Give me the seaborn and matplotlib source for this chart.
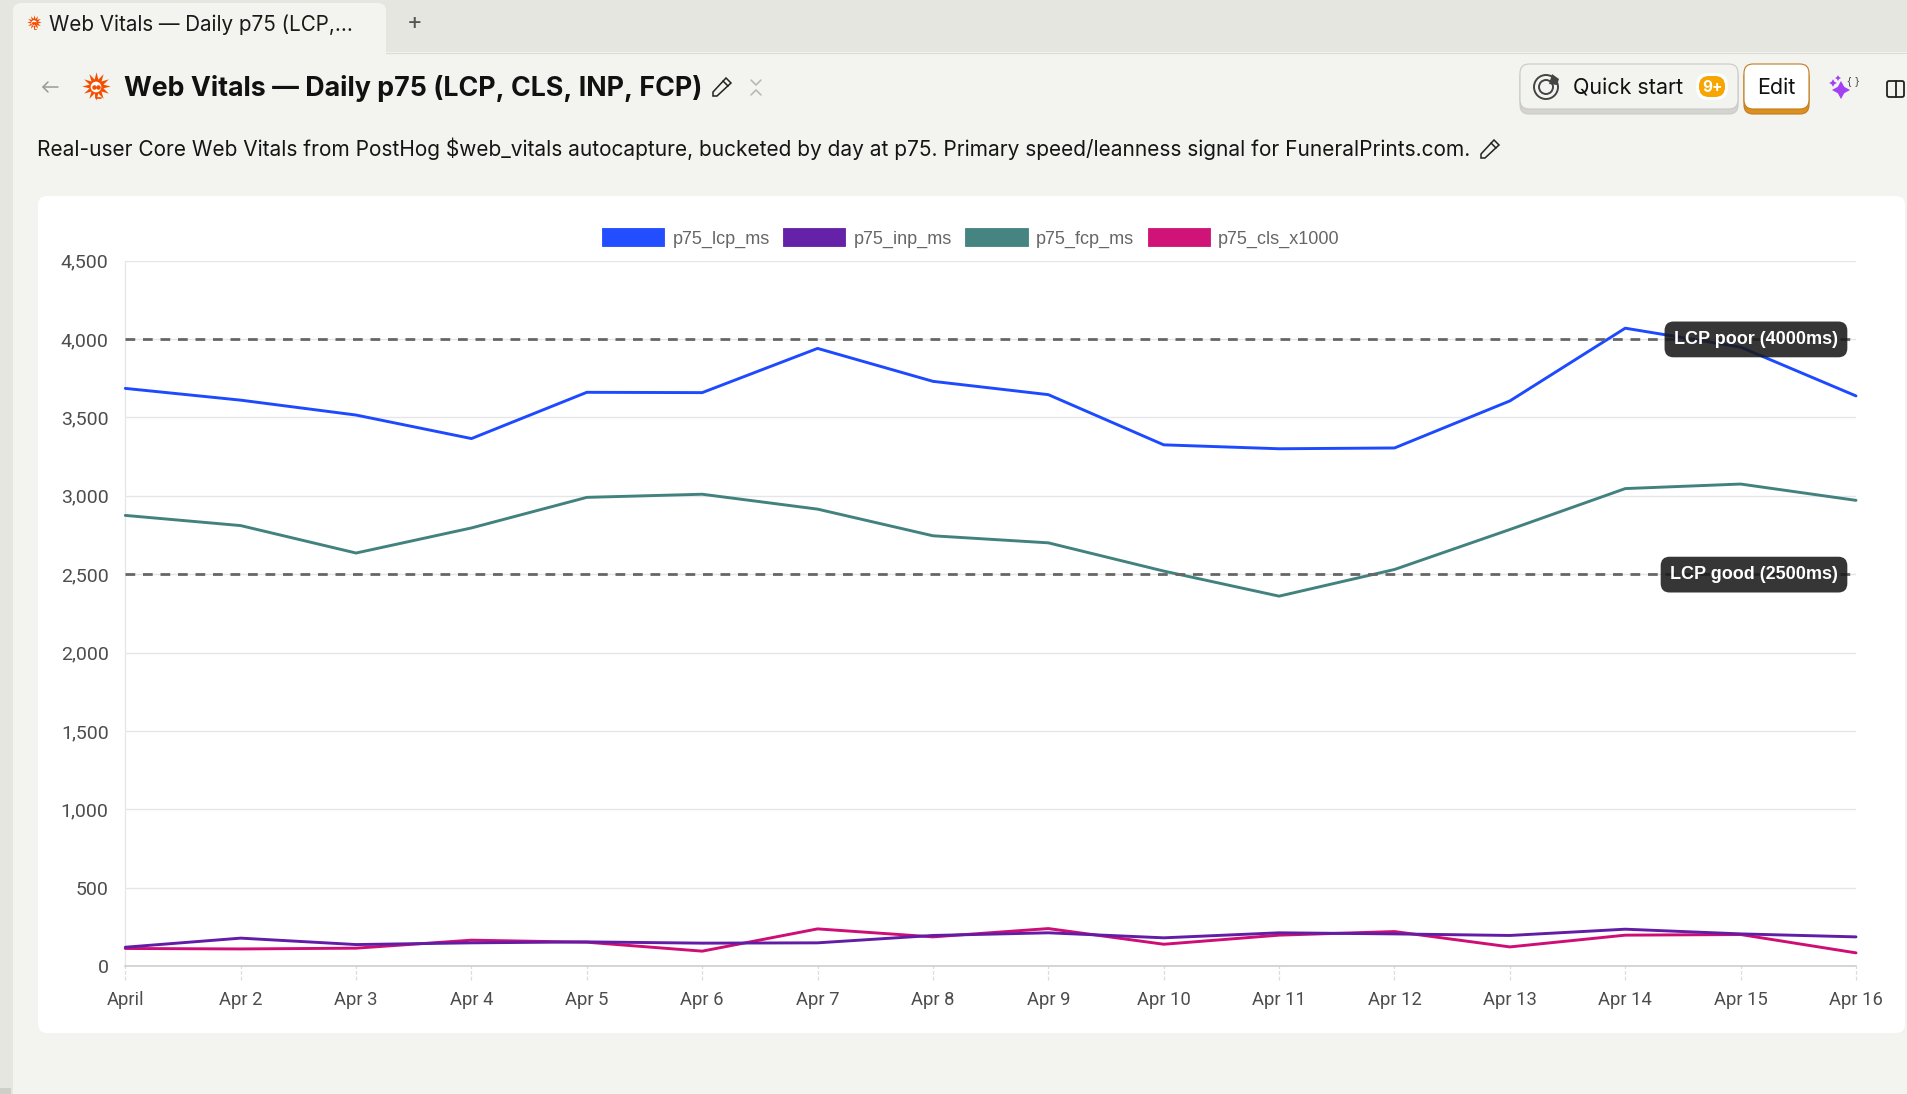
import pandas as pd
import seaborn as sns
import matplotlib
matplotlib.use("Agg")
import matplotlib.pyplot as plt
from matplotlib.patches import FancyBboxPatch, Patch, Rectangle, Polygon, Circle

# values
days = ["April", "Apr 2", "Apr 3", "Apr 4", "Apr 5", "Apr 6", "Apr 7", "Apr 8",
        "Apr 9", "Apr 10", "Apr 11", "Apr 12", "Apr 13", "Apr 14", "Apr 15", "Apr 16"]
p75_lcp_ms = [3685, 3610, 3515, 3365, 3660, 3658, 3940, 3730,
              3645, 3325, 3300, 3305, 3605, 4069, 3948, 3637]
p75_inp_ms = [121, 179, 138, 149, 155, 147, 149, 196,
              213, 181, 213, 206, 196, 236, 206, 187]
p75_fcp_ms = [2875, 2810, 2635, 2795, 2990, 3010, 2915, 2745,
              2700, 2520, 2360, 2530, 2785, 3046, 3075, 2971]
p75_cls_x1000 = [113, 110, 115, 166, 153, 96, 238, 187,
                 240, 140, 198, 221, 123, 198, 202, 85]
yticks = [0, 500, 1000, 1500, 2000, 2500, 3000, 3500, 4000, 4500]
thresholds = [4000, 2500]
threshold_labels = ["LCP poor (4000ms)", "LCP good (2500ms)"]

series_names = ["p75_lcp_ms", "p75_inp_ms", "p75_fcp_ms", "p75_cls_x1000"]
colors = ["#1d4aff", "#621da6", "#42827e", "#ce0e74"]

df = pd.DataFrame({"day": range(len(days)), "p75_lcp_ms": p75_lcp_ms, "p75_inp_ms": p75_inp_ms,
                   "p75_fcp_ms": p75_fcp_ms, "p75_cls_x1000": p75_cls_x1000})
long_df = df.melt(id_vars="day", var_name="series", value_name="value")

W, H = 1907, 1094
PAGE = "#f3f3ef"
CHROME = "#e5e6df"
UI_FONT = ["Inter", "DejaVu Sans"]
CHART_FONT = ["Roboto", "DejaVu Sans"]

sns.set_theme(style="white")
plt.rcParams["font.family"] = UI_FONT

fig = plt.figure(figsize=(W / 100, H / 100), dpi=100, facecolor=PAGE)

# page chrome, in pixel coordinates
bg = fig.add_axes([0, 0, 1, 1], zorder=0)
bg.set_xlim(0, W)
bg.set_ylim(H, 0)
bg.axis("off")


def rounded(x0, y0, x1, y1, r, face, edge="none", lw=0, z=1):
    bg.add_patch(FancyBboxPatch((x0 + r, y0 + r), x1 - x0 - 2 * r, y1 - y0 - 2 * r,
                                boxstyle=f"round,pad={r}", fc=face, ec=edge, lw=lw, zorder=z))


def pencil(cx, cy):
    body = [(cx - 9, cy + 5), (cx + 4, cy - 9), (cx + 9, cy - 4), (cx - 5, cy + 9), (cx - 9, cy + 9)]
    bg.add_patch(Polygon(body, closed=True, fc="none", ec="#222222", lw=1.1))
    bg.plot([cx + 1, cx + 6], [cy - 6, cy - 1], color="#222222", lw=1.1)


def hedgehog(cx, cy, size):
    r = size ** 0.5
    bg.scatter([cx], [cy - r * 0.05], s=size, marker=(12, 1, 0), color="#f54e00", lw=0, zorder=3)
    bg.add_patch(Circle((cx, cy), r * 0.26, fc="white", ec="none", zorder=4))
    bg.scatter([cx - r * 0.1, cx + r * 0.1], [cy] * 2, s=size * 0.012, color="#f54e00", zorder=5)
    bg.plot([cx, cx, cx + r * 0.22], [cy + r * 0.2, cy + r * 0.55, cy + r * 0.55], color="#f54e00",
            lw=r * 0.06, zorder=3)


bg.add_patch(Rectangle((0, 0), W, 52, fc=CHROME, ec="none"))
bg.add_patch(Rectangle((0, 0), 13, H, fc=CHROME, ec="none"))
bg.add_patch(Rectangle((0, 1088), 11, 6, fc="#cfcfca", ec="none"))
bg.plot([13, W], [52.5, 52.5], color="#dcdcd6", lw=0.8)
rounded(13, 3, 386, 60, 8, PAGE)
bg.add_patch(Rectangle((13, 44), 373, 20, fc=PAGE, ec="none", zorder=2))
hedgehog(34, 23, 110)
bg.text(49, 24.5, "Web Vitals — Daily p75 (LCP,...", fontsize=14.85, color="#1a1a1a", va="center")
bg.text(415, 22.5, "+", fontsize=17, color="#555555", va="center", ha="center")

bg.plot([43, 58], [87, 87], color="#999999", lw=1.1)
bg.plot([48, 43, 48], [82, 87, 92], color="#999999", lw=1.1)
hedgehog(96, 87, 420)
bg.text(124, 88, "Web Vitals — Daily p75 (LCP, CLS, INP, FCP)", fontsize=19.3, fontweight="bold",
        color="#111111", va="center")
pencil(722, 87)
for y0, y1 in [(80, 85), (95, 90)]:
    bg.plot([751, 756, 761], [y0, y1, y0], color="#b5b5b0", lw=1.1)

bg.text(37, 149, "Real-user Core Web Vitals from PostHog $web_vitals autocapture, bucketed by day at p75. "
                 "Primary speed/leanness signal for FuneralPrints.com.",
        fontsize=15.04, color="#151515", va="center")
pencil(1490, 149)

# buttons
rounded(1520, 68, 1738, 114, 9, "#d5d4d0", "#cbcac6", 0.8)
rounded(1520, 64, 1738, 109, 9, "#f3f3ef", "#c9c8c4", 0.8, z=2)
bg.add_patch(Circle((1546, 87), 12, fc="none", ec="#444444", lw=1.4, zorder=3))
bg.add_patch(Circle((1546, 87), 7, fc="none", ec="#444444", lw=1.4, zorder=3))
bg.add_patch(Polygon([(1549, 84), (1552, 74), (1559, 79), (1557, 85)], fc="#444444", ec="none", zorder=4))
bg.text(1573, 88, "Quick start", fontsize=15.5, color="#111111", va="center", zorder=3)
rounded(1696, 73, 1728, 100, 13, "white", z=3)
rounded(1699, 76, 1725, 97, 10, "#f7a501", z=4)
bg.text(1712, 87, "9+", fontsize=11, fontweight="bold", color="white", va="center", ha="center", zorder=5)
rounded(1744, 68, 1809, 114, 9, "#dd8f1f", "#c07d1a", 0.8)
rounded(1744, 64, 1809, 109, 9, "white", "#c07d1a", 0.8, z=2)
bg.text(1776.5, 87.5, "Edit", fontsize=15.5, color="#111111", va="center", ha="center", zorder=3)
bg.scatter([1841, 1833, 1838], [90, 83, 78], s=[170, 30, 18], marker=(4, 1, 0), color="#a240f5", lw=0, zorder=3)
bg.text(1853, 81, "{ }", fontsize=8, color="#444444", ha="center", va="center")
rounded(1887, 81, 1904, 97, 2, "none", "#222222", 1.3)
bg.plot([1895.5, 1895.5], [81, 97], color="#222222", lw=1.3)

# white card behind the chart
rounded(38, 196, 1905, 1033, 9, "white")

# chart
ax = fig.add_axes([125.3 / W, 1 - 966.2 / H, (1856 - 125.3) / W, (966.2 - 260.6) / H], zorder=1)
ax.patch.set_alpha(0)

# first series goes on top
sns.lineplot(data=long_df, x="day", y="value", hue="series", hue_order=series_names[::-1],
             palette=dict(zip(series_names, colors)), linewidth=2.1, legend=False, ax=ax,
             zorder=3, clip_on=False)

ax.set_xlim(0, len(days) - 1)
ax.set_ylim(0, 4500)
ax.set_xlabel("")
ax.set_ylabel("")
ax.set_xticks(range(len(days)))
ax.set_xticklabels(days)
ax.set_yticks(yticks)
ax.set_yticklabels([f"{v:,}" for v in yticks])
ax.grid(axis="y", color="#e6e6e9", lw=1.0, zorder=0)
ax.tick_params(axis="x", length=0, pad=18, labelsize=13.2, labelcolor="#4d4d4d")
ax.tick_params(axis="y", length=8, width=0.8, color="#e6e6e9", pad=4, labelsize=14, labelcolor="#4d4d4d")
for label in ax.get_xticklabels() + ax.get_yticklabels():
    label.set_fontfamily(CHART_FONT)

for side in ["top", "right"]:
    ax.spines[side].set_visible(False)
ax.spines["left"].set_color("#e6e6e9")
ax.spines["left"].set_linewidth(0.9)
ax.spines["bottom"].set_color("#c9c9d0")
ax.spines["bottom"].set_linewidth(1.1)

# dashed x tick marks under the axis
ax.vlines(range(len(days)), -14 / 705.3, 0, transform=ax.get_xaxis_transform(), color="#dcdcdf",
          lw=0.9, linestyles=(0, (3, 1.6)), clip_on=False)

for value, text in zip(thresholds, threshold_labels):
    ax.axhline(value, color="#666666", lw=2.0, linestyle=(0, (3.5, 2.8)), zorder=4)
    ax.annotate(text, xy=(len(days) - 1, value), xytext=(-13, -0.3), textcoords="offset points",
                ha="right", va="center", fontsize=13, fontweight="bold", color="white",
                fontfamily=["Liberation Sans", "DejaVu Sans"], zorder=6,
                bbox=dict(boxstyle="round,pad=0.52,rounding_size=0.5", fc=(0.1, 0.1, 0.1, 0.88), ec="none"))

handles = [Patch(fc=c, ec=c, alpha=0.98, lw=0.6) for c in colors]
leg = ax.legend(handles, series_names, ncols=4, frameon=False, loc="lower left",
                bbox_to_anchor=((602 - 125.3) / (1856 - 125.3), 1.0 + 13 / 705.3), borderaxespad=0, borderpad=0,
                handlelength=3.44, handleheight=1.17, handletextpad=0.47, columnspacing=0.74,
                prop={"family": ["Liberation Sans", "DejaVu Sans"], "size": 13})
for t in leg.get_texts():
    t.set_color("#666666")

fig.savefig("out.png", dpi=100, facecolor=PAGE)
